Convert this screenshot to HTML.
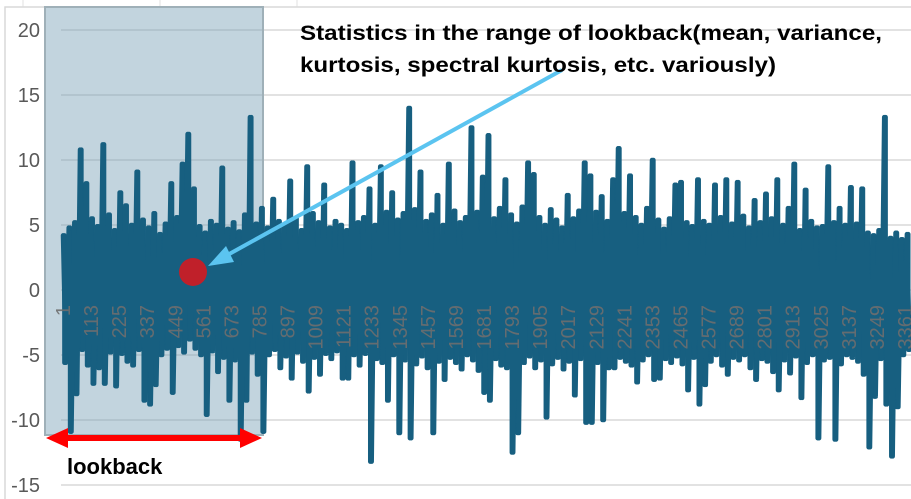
<!DOCTYPE html>
<html><head><meta charset="utf-8"><style>
html,body{margin:0;padding:0;background:#fff;}
svg{display:block;font-family:"Liberation Sans",sans-serif;}
</style></head><body>
<svg id="chart" width="911" height="499" viewBox="0 0 911 499">
<g id="bg">
<line x1="23" y1="0" x2="23" y2="7" stroke="#e0e0e0"/>
<line x1="160" y1="0" x2="160" y2="7" stroke="#e0e0e0"/>
<line x1="297" y1="0" x2="297" y2="7" stroke="#e0e0e0"/>
<rect x="5" y="7" width="910" height="500" fill="#fff" stroke="#d9d9d9" stroke-width="1.5"/>
</g>
<g id="grid"></g>
<rect x="45" y="7" width="218" height="428" fill="rgba(120,160,182,0.45)" stroke="#9fb0b8" stroke-width="2"/>
<g id="yaxis"></g>
<g id="bars"></g>
<polyline id="series" fill="none" stroke="#175f80" stroke-width="4.5" stroke-linejoin="round" stroke-linecap="round"/>
<g id="xaxis"></g>
<g>
<line x1="58" y1="438" x2="250" y2="438" stroke="#ff0000" stroke-width="6"/>
<polygon points="46,438 68,428 68,448" fill="#ff0000"/>
<polygon points="262,438 240,428 240,448" fill="#ff0000"/>
</g>
<text x="67" y="474" font-size="22" font-weight="bold" fill="#000">lookback</text>
<circle cx="193" cy="272" r="14" fill="#c0202a"/>
<g>
<line x1="562" y1="70" x2="222" y2="258" stroke="#5bc4f0" stroke-width="4"/>
<polygon points="208,266 226,246 234,262" fill="#5bc4f0"/>
</g>
<text x="300" y="40" font-size="21" font-weight="bold" fill="#000" textLength="582" lengthAdjust="spacingAndGlyphs">Statistics in the range of lookback(mean, variance,</text>
<text x="300" y="72" font-size="21" font-weight="bold" fill="#000" textLength="476" lengthAdjust="spacingAndGlyphs">kurtosis, spectral kurtosis, etc. variously)</text>
</svg>
<script>
const yTicks = [20, 15, 10, 5, 0, -5, -10, -15];
const xTickLabels = [1,113,225,337,449,561,673,785,897,1009,1121,1233,1345,1457,1569,1681,1793,1905,2017,2129,2241,2353,2465,2577,2689,2801,2913,3025,3137,3249,3361];
const binSize = 22.6;
const highs = [4.2,4.8,5.2,10.8,8.2,5.5,4.9,11.2,5.8,4.6,
7.5,6.5,5.0,9.1,5.4,4.8,5.9,4.3,5.1,8.2,
5.6,9.7,12.0,7.8,4.9,4.4,5.3,5.0,9.4,4.7,
5.2,4.5,5.8,13.3,5.1,6.3,4.8,7.0,5.3,4.9,
8.4,5.5,4.6,9.5,5.9,5.2,8.1,4.8,5.3,5.0,
4.6,9.8,5.2,5.6,7.8,5.0,9.5,6.0,7.5,5.4,
5.9,14.0,6.2,9.1,5.3,5.8,7.3,5.0,9.7,6.1,
5.2,5.6,12.5,6.0,8.7,11.9,5.5,6.3,8.5,5.8,
5.1,6.4,9.8,8.9,5.6,5.0,6.2,5.4,4.8,7.3,
5.5,6.1,9.8,8.8,6.0,7.2,5.3,8.5,10.9,5.9,
8.8,5.6,5.0,6.3,10.0,5.4,4.7,5.5,8.1,8.3,
5.2,4.9,8.5,5.3,5.0,8.1,5.6,8.5,5.1,8.3,
5.7,4.8,6.9,5.2,7.4,5.5,8.5,5.0,6.3,9.7,
4.6,7.7,5.3,4.8,4.9,9.5,5.2,6.3,5.0,7.9,
5.1,7.8,4.4,4.2,4.6,13.3,4.0,4.4,3.9,4.3];
const lows = [-5.6,-10.9,-8.0,-4.6,-5.8,-7.2,-6.0,-7.2,-4.8,-7.4,
-4.9,-5.5,-5.8,-4.6,-8.5,-8.8,-7.3,-5.0,-4.5,-7.9,
-4.3,-4.8,-3.8,-4.5,-5.0,-9.6,-4.7,-6.3,-5.2,-8.5,
-5.4,-11.5,-8.5,-4.8,-6.5,-10.9,-5.0,-4.6,-6.0,-5.1,
-6.8,-4.8,-5.5,-7.8,-5.2,-6.5,-4.9,-5.3,-4.7,-6.8,
-6.8,-5.0,-5.8,-4.9,-13.2,-5.3,-5.6,-8.5,-5.0,-11.0,
-5.4,-11.4,-5.7,-5.1,-6.0,-11.0,-5.5,-6.9,-5.2,-5.6,
-6.1,-5.0,-5.4,-6.2,-7.9,-8.5,-5.3,-5.8,-6.0,-12.5,
-11.0,-5.6,-5.1,-6.0,-5.4,-9.8,-5.7,-5.2,-6.1,-5.5,
-8.1,-5.3,-10.2,-10.2,-5.6,-10.0,-6.0,-6.0,-5.2,-5.5,
-5.8,-7.1,-5.4,-5.0,-6.9,-6.8,-5.3,-5.6,-5.1,-5.7,
-7.7,-5.2,-8.8,-7.3,-5.5,-5.0,-5.8,-6.5,-5.2,-5.4,
-5.0,-6.0,-6.9,-5.3,-5.5,-6.3,-7.7,-5.4,-6.4,-5.1,
-8.3,-5.6,-5.0,-11.4,-5.4,-5.2,-11.5,-5.7,-5.0,-5.2,
-5.5,-6.5,-12.1,-8.2,-5.3,-8.8,-12.8,-9.0,-5.0,-4.6];

const NS = "http://www.w3.org/2000/svg";
function yScale(v){ return 290 - v * 13; }
function xScale(i){ return 63 + (i - 1) * (842 / 3360); }

const grid = document.getElementById('grid');
const yaxis = document.getElementById('yaxis');
yTicks.forEach(t => {
  const l = document.createElementNS(NS, 'line');
  l.setAttribute('x1', 61); l.setAttribute('x2', 911);
  l.setAttribute('y1', yScale(t)); l.setAttribute('y2', yScale(t));
  l.setAttribute('stroke', '#d9d9d9'); l.setAttribute('stroke-width', '1.5');
  
  
  grid.appendChild(l);
  const tx = document.createElementNS(NS, 'text');
  tx.setAttribute('x', 40); tx.setAttribute('y', yScale(t) + 7);
  tx.setAttribute('text-anchor', 'end'); tx.setAttribute('font-size', '20');
  tx.setAttribute('fill', '#595959');
  tx.textContent = t;
  
  
  yaxis.appendChild(tx);
});

const bars = document.getElementById('bars');
const pts = [];
for (let k = 0; k < highs.length; k++) {
  const i1 = 1 + k * binSize;
  const i2 = 1 + (k + 0.5) * binSize;
  pts.push(xScale(i1).toFixed(1) + ',' + yScale(highs[k]).toFixed(1));
  pts.push(xScale(i2).toFixed(1) + ',' + yScale(lows[k]).toFixed(1));
  const b = document.createElementNS(NS, 'line');
  const bx = xScale(1 + (k + 0.25) * binSize);
  b.setAttribute('x1', bx); b.setAttribute('x2', bx);
  b.setAttribute('y1', yScale(highs[k])); b.setAttribute('y2', yScale(lows[k]));
  b.setAttribute('stroke', '#175f80'); b.setAttribute('stroke-width', '4.5');
  b.setAttribute('stroke-linecap', 'round');
  
  
  bars.appendChild(b);
}
document.getElementById('series').setAttribute('points', pts.join(' '));

const xaxis = document.getElementById('xaxis');
xTickLabels.forEach(c => {
  const tx = document.createElementNS(NS, 'text');
  const x = xScale(c) + 7;
  tx.setAttribute('transform', 'translate(' + x + ',305) rotate(-90)');
  tx.setAttribute('text-anchor', 'end'); tx.setAttribute('font-size', '20');
  tx.setAttribute('fill', '#6e6e6e'); tx.setAttribute('fill-opacity', '0.9');
  tx.textContent = c;
  
  
  xaxis.appendChild(tx);
});
</script>
</body></html>
